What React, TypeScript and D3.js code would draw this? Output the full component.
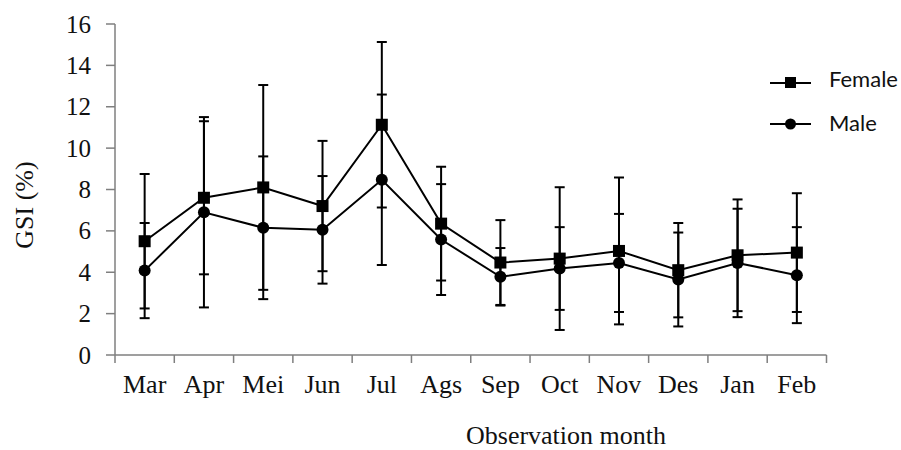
import React from "react";
import * as d3 from "d3";

const months = ["Mar", "Apr", "Mei", "Jun", "Jul", "Ags", "Sep", "Oct", "Nov", "Des", "Jan", "Feb"];
const femaleMean = [5.5, 7.6, 8.1, 7.2, 11.13, 6.35, 4.47, 4.66, 5.03, 4.1, 4.82, 4.95];
const femaleErr = [3.25, 3.7, 4.95, 3.15, 4.0, 2.75, 2.05, 3.45, 3.55, 2.28, 2.7, 2.87];
const maleMean = [4.08, 6.9, 6.15, 6.05, 8.47, 5.58, 3.78, 4.18, 4.45, 3.65, 4.45, 3.86];
const maleErr = [2.3, 4.6, 3.45, 2.6, 4.12, 2.68, 1.39, 2.0, 2.37, 2.27, 2.62, 2.32];
const yTicks = [0, 2, 4, 6, 8, 10, 12, 14, 16];

const W = 901;
const H = 450;
const left = 115;
const right = 826.5;
const top = 24;
const bottom = 355;

export default function App() {
  const x = d3.scaleBand<string>().domain(months).range([left, right]).padding(0);
  const y = d3.scaleLinear().domain([0, 16]).range([bottom, top]);
  const cx = (m: string) => (x(m) as number) + x.bandwidth() / 2;
  const line = d3
    .line<number>()
    .x((_, i) => cx(months[i]))
    .y((d) => y(d));
  const axisColor = "#7f7f7f";
  const serif = "'Liberation Serif', 'Times New Roman', serif";
  const sans = "Lato, 'Liberation Sans', sans-serif";
  const boundaries = d3.range(months.length + 1).map((i) => left + i * x.bandwidth());

  const errBars = (means: number[], errs: number[], key: string) =>
    means.map((m, i) => {
      const xx = cx(months[i]);
      const hi = y(m + errs[i]);
      const lo = y(m - errs[i]);
      return (
        <g key={key + i} stroke="#000" strokeWidth={2}>
          <line x1={xx} x2={xx} y1={hi} y2={lo} />
          <line x1={xx - 5} x2={xx + 5} y1={hi} y2={hi} />
          <line x1={xx - 5} x2={xx + 5} y1={lo} y2={lo} />
        </g>
      );
    });

  return (
    <svg width={W} height={H} style={{ position: "absolute", left: 0, top: 0, background: "#fff" }}>
      {/* axes */}
      <line x1={left} x2={left} y1={top} y2={bottom} stroke={axisColor} strokeWidth={1.5} />
      <line x1={left} x2={right} y1={bottom} y2={bottom} stroke={axisColor} strokeWidth={1.5} />
      {yTicks.map((t) => (
        <g key={"yt" + t}>
          <line x1={left - 9} x2={left} y1={y(t)} y2={y(t)} stroke={axisColor} strokeWidth={1.5} />
          <text x={left - 24} y={y(t) + 8.5} textAnchor="end" fontFamily={serif} fontSize={25} fill="#111">
            {t}
          </text>
        </g>
      ))}
      {boundaries.map((b, i) => (
        <line key={"xt" + i} x1={b} x2={b} y1={bottom} y2={bottom + 8} stroke={axisColor} strokeWidth={1.5} />
      ))}
      {months.map((m) => (
        <text key={"xl" + m} x={cx(m)} y={393} textAnchor="middle" fontFamily={serif} fontSize={26} fill="#111">
          {m}
        </text>
      ))}
      <text x={566} y={444} textAnchor="middle" fontFamily={serif} fontSize={26} fill="#111">
        Observation month
      </text>
      <text
        transform={`translate(33, 205) rotate(-90)`}
        textAnchor="middle"
        fontFamily={serif}
        fontSize={26}
        fill="#111"
      >
        GSI (%)
      </text>

      {/* error bars */}
      {errBars(femaleMean, femaleErr, "fe")}
      {errBars(maleMean, maleErr, "me")}

      {/* lines */}
      <path d={line(femaleMean) || ""} fill="none" stroke="#000" strokeWidth={2} />
      <path d={line(maleMean) || ""} fill="none" stroke="#000" strokeWidth={2} />

      {/* markers */}
      {femaleMean.map((v, i) => (
        <rect key={"fm" + i} x={cx(months[i]) - 6} y={y(v) - 6} width={12} height={12} fill="#000" />
      ))}
      {maleMean.map((v, i) => (
        <circle key={"mm" + i} cx={cx(months[i])} cy={y(v)} r={6} fill="#000" />
      ))}

      {/* legend */}
      <g>
        <line x1={770} x2={811} y1={83} y2={83} stroke="#000" strokeWidth={2} />
        <rect x={785} y={77} width={11} height={11} fill="#000" />
        <text x={829} y={87} fontFamily={sans} fontSize={22} fill="#111">
          Female
        </text>
        <line x1={770} x2={811} y1={124} y2={124} stroke="#000" strokeWidth={2} />
        <circle cx={790.5} cy={124} r={5.5} fill="#000" />
        <text x={829} y={130.5} fontFamily={sans} fontSize={22} fill="#111">
          Male
        </text>
      </g>
    </svg>
  );
}
